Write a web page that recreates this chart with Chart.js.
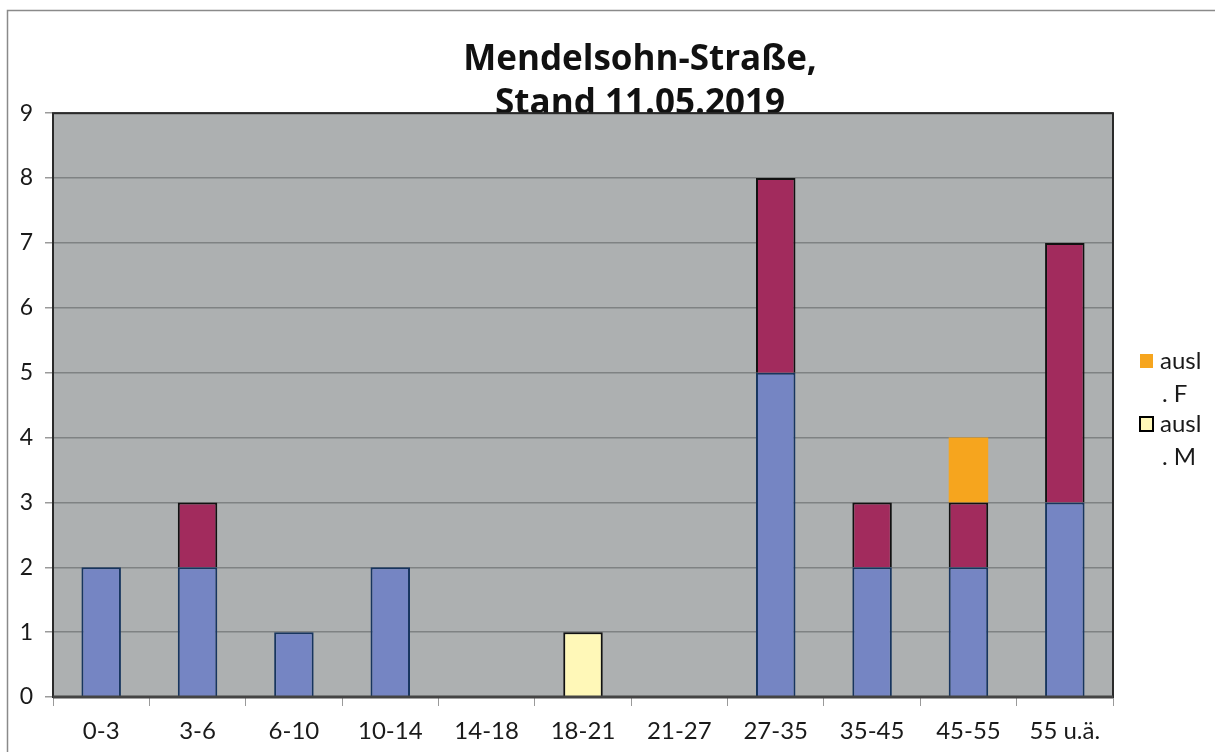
<!DOCTYPE html>
<html>
<head>
<meta charset="utf-8">
<script src="https://cdn.jsdelivr.net/npm/chart.js@4.4.0/dist/chart.umd.min.js"></script>
<style>
html,body{margin:0;padding:0;background:#fff;}
#wrap{width:1215px;height:752px;position:relative;}
</style>
</head>
<body>
<div id="wrap"><canvas id="c" width="1215" height="752"></canvas></div>
<script>
const categories = ['0-3','3-6','6-10','10-14','14-18','18-21','21-27','27-35','35-45','45-55','55 u.ä.'];
const seriesBlue   = [2, 2, 1, 2, null, null, null, 5, 2, 2, 3];
const seriesPurple = [null, 1, null, null, null, null, null, 3, 1, 1, 4];
const seriesAuslM  = [null, null, null, null, null, 1, null, null, null, null, null];
const seriesAuslF  = [null, null, null, null, null, null, null, null, null, 1, null];
const yTicks = [0,1,2,3,4,5,6,7,8,9];
const titleLines = ['Mendelsohn-Straße,', 'Stand 11.05.2019'];
const legendEntries = [
  {dataset: 3, lines: ['ausl', '. F']},
  {dataset: 2, lines: ['ausl', '. M']}
];

const FONT = 'Lato, "Open Sans", sans-serif';
const TFONT = '"Open Sans", Lato, sans-serif';

const frame = {
  id: 'frame',
  afterLayout(chart) {
    const t = chart.titleBlock;
    if (t) { t.left = 167; t.right = 1113; }
  },
  beforeDraw(chart) {
    const ctx = chart.ctx, a = chart.chartArea;
    ctx.save();
    ctx.fillStyle = '#fff';
    ctx.fillRect(0, 0, chart.width, chart.height);
    ctx.strokeStyle = '#8a8a8a';
    ctx.lineWidth = 1.5;
    ctx.beginPath();
    ctx.moveTo(7.5, chart.height);
    ctx.lineTo(7.5, 10.5);
    ctx.lineTo(chart.width, 10.5);
    ctx.stroke();
    ctx.fillStyle = '#adb0b1';
    ctx.fillRect(a.left, a.top, a.right - a.left, a.bottom - a.top);
    ctx.restore();
  },
  afterDatasetsDraw(chart) {
    const ctx = chart.ctx, a = chart.chartArea;
    ctx.save();
    ctx.strokeStyle = '#2a2a2a';
    ctx.lineWidth = 2;
    ctx.strokeRect(a.left, a.top, a.right - a.left, a.bottom - a.top);
    ctx.strokeStyle = '#444';
    ctx.lineWidth = 3;
    ctx.beginPath();
    ctx.moveTo(a.left, a.bottom);
    ctx.lineTo(a.right, a.bottom);
    ctx.stroke();
    ctx.restore();
  },
  afterDraw(chart) {
    const ctx = chart.ctx;
    ctx.save();
    ctx.font = '24px ' + FONT;
    ctx.textBaseline = 'middle';
    let y = 361;
    legendEntries.forEach(e => {
      const ds = chart.data.datasets[e.dataset];
      ctx.fillStyle = ds.backgroundColor;
      ctx.fillRect(1140, y - 7, 13, 14);
      if (ds.borderWidth) {
        ctx.strokeStyle = '#000';
        ctx.lineWidth = 2;
        ctx.strokeRect(1140, y - 7, 13, 14);
      }
      ctx.fillStyle = '#1a1a1a';
      ctx.fillText(e.lines[0], 1160, y);
      ctx.fillText(e.lines[1], 1162, y + 33);
      y += 63;
    });
    ctx.restore();
  }
};

new Chart(document.getElementById('c'), {
  type: 'bar',
  data: {
    labels: categories,
    datasets: [
      {label: 'Blau', data: seriesBlue, backgroundColor: '#7585c3', borderColor: '#17355f', borderWidth: 2},
      {label: 'Rot', data: seriesPurple, backgroundColor: '#a22b5d', borderColor: '#111', borderWidth: 2},
      {label: 'ausl. M', data: seriesAuslM, backgroundColor: '#fff8b8', borderColor: '#111', borderWidth: 2},
      {label: 'ausl. F', data: seriesAuslF, backgroundColor: '#f6a51e', borderColor: '#f6a51e', borderWidth: 0}
    ]
  },
  options: {
    responsive: false,
    animation: false,
    devicePixelRatio: 1,
    layout: {padding: {left: 0, right: 102, top: 0, bottom: 0}},
    datasets: {bar: {barPercentage: 0.41, categoryPercentage: 1}},
    plugins: {
      legend: {display: false},
      tooltip: {enabled: false},
      title: {
        display: true,
        text: titleLines,
        color: '#111',
        font: {family: TFONT, size: 35, weight: 'bold', lineHeight: 1.26},
        padding: {top: 38, bottom: -13}
      }
    },
    scales: {
      x: {
        stacked: true,
        grid: {display: true, drawOnChartArea: false, drawTicks: true, tickLength: 9, color: '#9a9a9a', offset: true},
        border: {display: false},
        ticks: {color: '#1a1a1a', font: {family: FONT, size: 24}, padding: 11, maxRotation: 0, autoSkip: false},
        afterFit(s) { s.height = 55; }
      },
      y: {
        stacked: true,
        min: 0, max: 9,
        afterBuildTicks(s) { s.ticks = yTicks.map(v => ({value: v})); },
        grid: {color: '#7f8283', lineWidth: 1.5, tickLength: 8, drawTicks: true, tickColor: '#9a9a9a'},
        border: {display: false},
        ticks: {color: '#1a1a1a', font: {family: FONT, size: 23}, padding: 12, stepSize: 1},
        afterFit(s) { s.width = 53; }
      }
    }
  },
  plugins: [frame]
});
</script>
</body>
</html>
